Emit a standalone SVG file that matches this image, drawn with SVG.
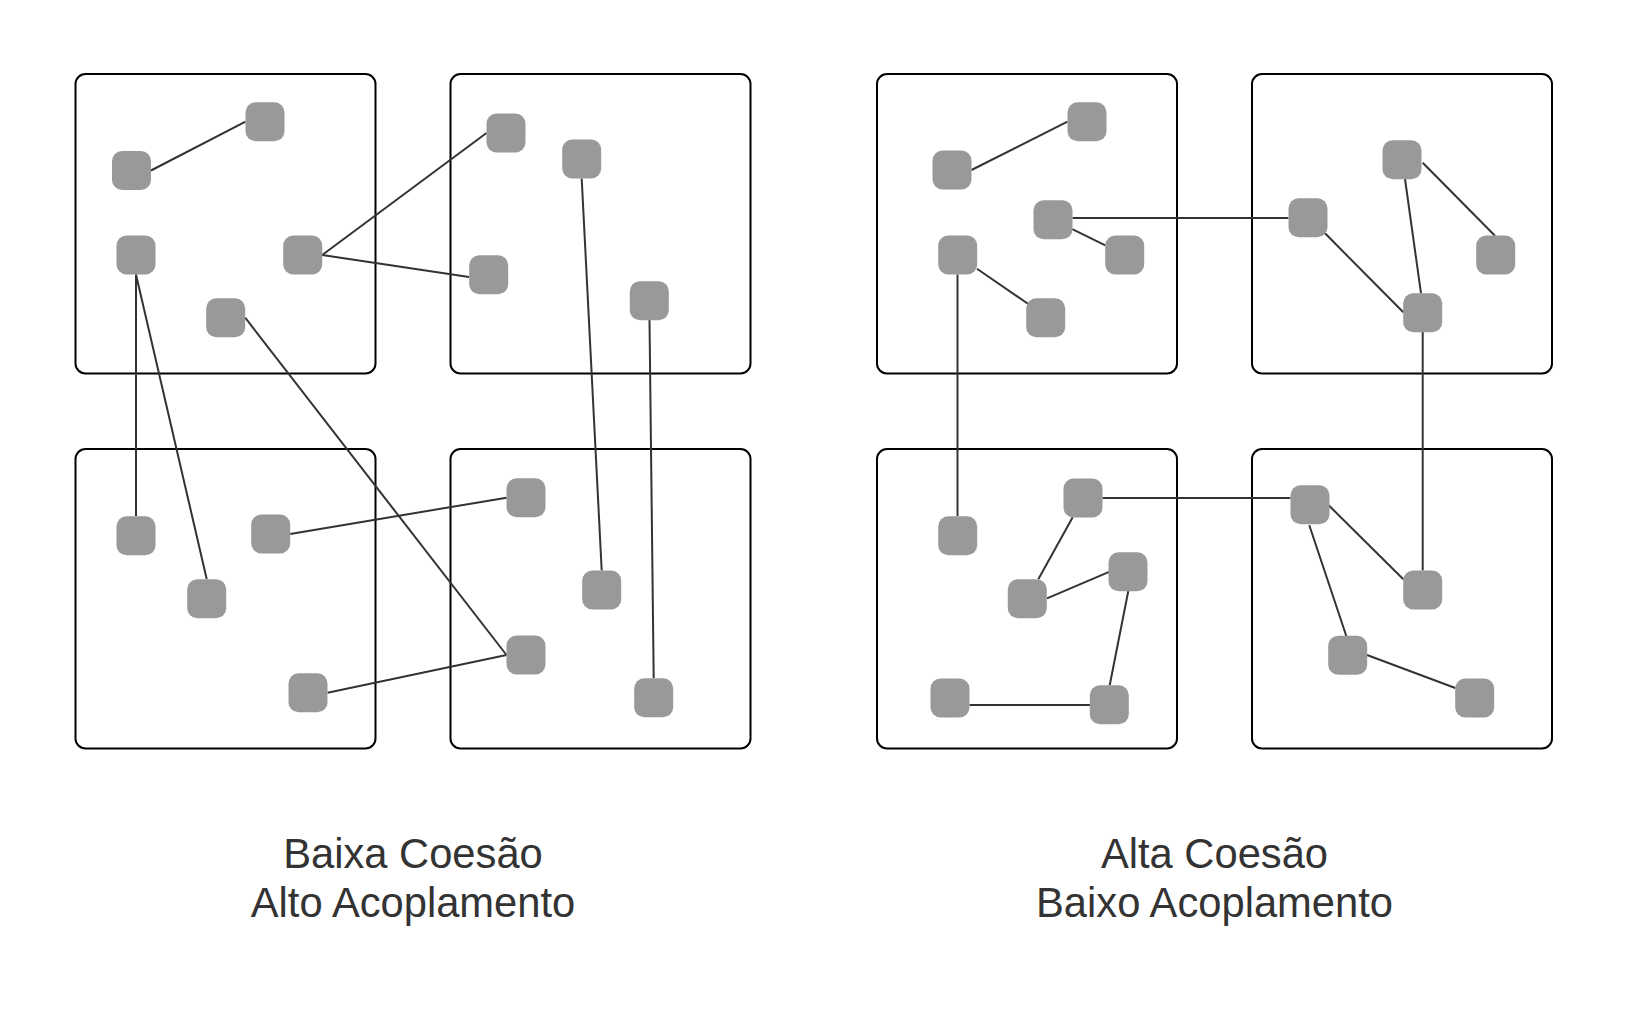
<svg xmlns="http://www.w3.org/2000/svg" width="1650" height="1018" viewBox="0 0 1650 1018">
<style>
.box{fill:#ffffff;stroke:#000000;stroke-width:2}
.n{fill:#999999}
.c line{stroke:#333333;stroke-width:2;fill:none}
.t{font-family:"Liberation Sans",Arial,sans-serif;font-size:41.7px;fill:#333333;text-anchor:middle}
</style>
<defs>
<rect id="nd" x="-19.5" y="-19.5" width="39" height="39" rx="10" ry="10"/>
</defs>
<rect width="1650" height="1018" fill="#ffffff"/>
<g id="containers">
<g id="box-l-tl"><rect class="box" x="75.5" y="74" width="300" height="299.5" rx="10"/></g>
<g id="box-l-tr"><rect class="box" x="450.5" y="74" width="300" height="299.5" rx="10"/></g>
<g id="box-l-bl"><rect class="box" x="75.5" y="449" width="300" height="299.5" rx="10"/></g>
<g id="box-l-br"><rect class="box" x="450.5" y="449" width="300" height="299.5" rx="10"/></g>
<g id="box-r-tl"><rect class="box" x="877" y="74" width="300" height="299.5" rx="10"/></g>
<g id="box-r-tr"><rect class="box" x="1252" y="74" width="300" height="299.5" rx="10"/></g>
<g id="box-r-bl"><rect class="box" x="877" y="449" width="300" height="299.5" rx="10"/></g>
<g id="box-r-br"><rect class="box" x="1252" y="449" width="300" height="299.5" rx="10"/></g>
</g>
<g id="connectors" class="c">
<line x1="151" y1="170.5" x2="245.5" y2="121.7"/>
<line x1="322.2" y1="255" x2="486.5" y2="133"/>
<line x1="322.2" y1="255" x2="469" y2="277"/>
<line x1="136" y1="274.5" x2="136" y2="516"/>
<line x1="136" y1="274.5" x2="206.7" y2="579"/>
<line x1="245.2" y1="317.7" x2="506.5" y2="655"/>
<line x1="581.7" y1="178.5" x2="601.7" y2="570.5"/>
<line x1="649.5" y1="320" x2="653.7" y2="678"/>
<line x1="290.2" y1="534" x2="506.5" y2="497.7"/>
<line x1="327.5" y1="692.7" x2="506.5" y2="655"/>
<line x1="971.5" y1="170" x2="1067.5" y2="121.7"/>
<line x1="1072.5" y1="218" x2="1288.5" y2="218"/>
<line x1="1072.3" y1="229.2" x2="1105.3" y2="245.4"/>
<line x1="977" y1="268.7" x2="1028.3" y2="304"/>
<line x1="957.5" y1="274.5" x2="957.5" y2="516"/>
<line x1="1325" y1="233.3" x2="1403.3" y2="312.3"/>
<line x1="1405" y1="179" x2="1421" y2="293.3"/>
<line x1="1422.7" y1="162.7" x2="1495" y2="235.7"/>
<line x1="1422.7" y1="332" x2="1422.7" y2="570.5"/>
<line x1="1102.5" y1="498" x2="1290.5" y2="498"/>
<line x1="1072.7" y1="517.3" x2="1038.3" y2="579.3"/>
<line x1="1047" y1="598.3" x2="1109.7" y2="571.7"/>
<line x1="1128.3" y1="591" x2="1109.7" y2="685.3"/>
<line x1="969.5" y1="705" x2="1090" y2="705"/>
<line x1="1328.7" y1="505.3" x2="1403.3" y2="579.3"/>
<line x1="1309.3" y1="525.3" x2="1346.3" y2="636"/>
<line x1="1367" y1="655" x2="1455.3" y2="688"/>
</g>
<g id="nodes-left" class="n">
<g id="n-a"><use href="#nd" x="131.5" y="170.5"/></g>
<g id="n-b"><use href="#nd" x="265" y="121.7"/></g>
<g id="n-c"><use href="#nd" x="136" y="255"/></g>
<g id="n-d"><use href="#nd" x="302.7" y="255"/></g>
<g id="n-e"><use href="#nd" x="225.7" y="317.7"/></g>
<g id="n-f"><use href="#nd" x="506" y="133"/></g>
<g id="n-g"><use href="#nd" x="581.7" y="159"/></g>
<g id="n-h"><use href="#nd" x="488.7" y="274.7"/></g>
<g id="n-i"><use href="#nd" x="649.3" y="300.7"/></g>
<g id="n-j"><use href="#nd" x="136" y="535.7"/></g>
<g id="n-k"><use href="#nd" x="206.7" y="598.7"/></g>
<g id="n-l"><use href="#nd" x="270.7" y="534"/></g>
<g id="n-m"><use href="#nd" x="308" y="692.7"/></g>
<g id="n-n"><use href="#nd" x="526" y="497.7"/></g>
<g id="n-o"><use href="#nd" x="526" y="655"/></g>
<g id="n-p"><use href="#nd" x="601.7" y="590"/></g>
<g id="n-q"><use href="#nd" x="653.7" y="697.7"/></g>
</g>
<g id="nodes-right" class="n">
<g id="n-r1"><use href="#nd" x="952" y="170"/></g>
<g id="n-r2"><use href="#nd" x="1087" y="121.7"/></g>
<g id="n-r3"><use href="#nd" x="1053" y="219.7"/></g>
<g id="n-r4"><use href="#nd" x="1124.7" y="255"/></g>
<g id="n-r5"><use href="#nd" x="957.7" y="255"/></g>
<g id="n-r6"><use href="#nd" x="1045.7" y="317.7"/></g>
<g id="n-s1"><use href="#nd" x="1308" y="217.7"/></g>
<g id="n-s2"><use href="#nd" x="1402" y="159.7"/></g>
<g id="n-s3"><use href="#nd" x="1495.7" y="255"/></g>
<g id="n-s4"><use href="#nd" x="1422.7" y="312.7"/></g>
<g id="n-t1"><use href="#nd" x="957.7" y="535.7"/></g>
<g id="n-t2"><use href="#nd" x="1083" y="498"/></g>
<g id="n-t3"><use href="#nd" x="1027.3" y="598.7"/></g>
<g id="n-t4"><use href="#nd" x="1128" y="571.7"/></g>
<g id="n-t5"><use href="#nd" x="950" y="698"/></g>
<g id="n-t6"><use href="#nd" x="1109.3" y="704.7"/></g>
<g id="n-u1"><use href="#nd" x="1310" y="504.7"/></g>
<g id="n-u2"><use href="#nd" x="1422.7" y="590"/></g>
<g id="n-u3"><use href="#nd" x="1347.7" y="655.3"/></g>
<g id="n-u4"><use href="#nd" x="1474.7" y="698"/></g>
</g>
<g id="label-left">
<text class="t" x="413" y="867.5">Baixa Coesão</text>
<text class="t" x="413" y="917">Alto Acoplamento</text>
</g>
<g id="label-right">
<text class="t" x="1214.5" y="867.5">Alta Coesão</text>
<text class="t" x="1214.5" y="917">Baixo Acoplamento</text>
</g>
</svg>
